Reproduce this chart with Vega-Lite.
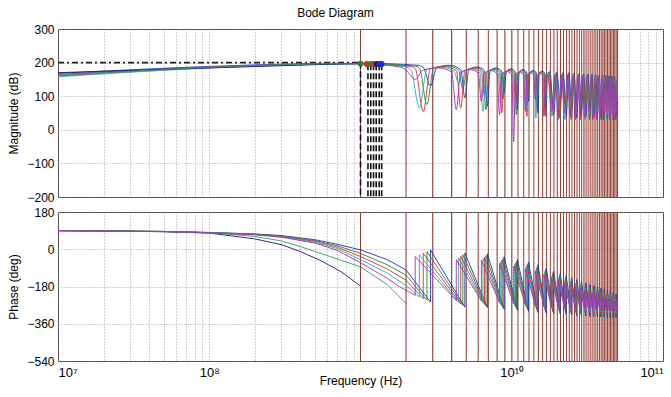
{
"$schema":"https://vega.github.io/schema/vega-lite/v6.json",
"padding":{"left":7,"top":6,"right":8,"bottom":4},
"title":{"text":"Bode Diagram","anchor":"middle","offset":3,"fontSize":12,"fontWeight":"normal","font":"Liberation Sans","color":"#000"},
"config":{"font":"Liberation Sans","view":{"stroke":"#4d4040","strokeWidth":1},
"axis":{"labelFont":"Liberation Sans","labelFontSize":12,"labelColor":"#000","titleFont":"Liberation Sans","titleFontSize":12,"titleFontWeight":"normal","titleColor":"#000","domain":false,"ticks":false,"gridColor":"#8a8a8a","gridDash":[1,2],"gridWidth":0.8,"gridOpacity":1,"labelPadding":4,"titlePadding":6}},
"datasets":{
"harm":[{"f":1},{"f":2},{"f":3},{"f":4},{"f":5},{"f":6},{"f":7},{"f":8},{"f":9},{"f":10},{"f":11},{"f":12},{"f":13},{"f":14},{"f":15},{"f":16},{"f":17},{"f":18},{"f":19},{"f":20},{"f":21},{"f":22},{"f":23},{"f":24},{"f":25},{"f":26},{"f":27},{"f":28},{"f":29},{"f":30},{"f":31},{"f":32},{"f":33},{"f":34},{"f":35},{"f":36},{"f":37},{"f":38},{"f":39},{"f":40},{"f":41},{"f":42},{"f":43},{"f":44},{"f":45},{"f":46},{"f":47},{"f":48},{"f":49},{"f":50}],
"ladder":[{"f":1,"v":200,"v2":-200},{"f":1.12,"v":195,"v2":-200},{"f":1.17,"v":195,"v2":-200},{"f":1.22,"v":195,"v2":-200},{"f":1.27,"v":195,"v2":-200},{"f":1.33,"v":195,"v2":-200},{"f":1.38,"v":195,"v2":-200}],
"hline":[{"f":0.01,"f1":1,"v":200}],
"dots":[{"s":"b","f":1,"v":197},{"s":"c","f":1.1,"v":196},{"s":"b","f":1.17,"v":196},{"s":"c","f":1.22,"v":196},{"s":"n","f":1.28,"v":196},{"s":"a","f":1.34,"v":196},{"s":"a","f":1.38,"v":196}],
"mag":[
{"s":"a","f":0.01,"v":168},{"s":"a","f":1,"v":198},{"s":"a","f":2.4,"v":192},
{"s":"a","f":2.6,"v":186},{"s":"a","f":2.9,"v":130},{"s":"a","f":3.2,"v":186},{"s":"a","f":3.9,"v":192},
{"s":"a","f":4.6,"v":179},{"s":"a","f":4.9,"v":95},{"s":"a","f":5.2,"v":179},{"s":"a","f":5.9,"v":187},
{"s":"a","f":6.6,"v":176},{"s":"a","f":6.9,"v":70},{"s":"a","f":7.2,"v":176},{"s":"a","f":7.9,"v":184},
{"s":"a","f":8.6,"v":173},{"s":"a","f":8.9,"v":110},{"s":"a","f":9.2,"v":173},{"s":"a","f":9.9,"v":181},
{"s":"a","f":10.6,"v":171},{"s":"a","f":10.9,"v":60},{"s":"a","f":11.2,"v":171},{"s":"a","f":11.9,"v":179},
{"s":"a","f":12.6,"v":169},{"s":"a","f":12.9,"v":85},{"s":"a","f":13.2,"v":169},{"s":"a","f":13.9,"v":177},
{"s":"a","f":14.6,"v":167},{"s":"a","f":14.9,"v":50},{"s":"a","f":15.2,"v":167},{"s":"a","f":15.9,"v":175},
{"s":"a","f":16.6,"v":165},{"s":"a","f":16.9,"v":70},{"s":"a","f":17.2,"v":165},{"s":"a","f":17.9,"v":173},
{"s":"a","f":18.9,"v":45},{"s":"a","f":19.9,"v":172},{"s":"a","f":20.9,"v":80},{"s":"a","f":21.9,"v":171},{"s":"a","f":22.9,"v":40},{"s":"a","f":23.9,"v":170},{"s":"a","f":24.9,"v":65},{"s":"a","f":25.9,"v":169},{"s":"a","f":26.9,"v":35},{"s":"a","f":27.9,"v":168},{"s":"a","f":28.9,"v":55},{"s":"a","f":29.9,"v":167},{"s":"a","f":30.9,"v":40},{"s":"a","f":31.9,"v":166},{"s":"a","f":32.9,"v":60},{"s":"a","f":33.9,"v":165},{"s":"a","f":34.9,"v":35},{"s":"a","f":35.9,"v":164},{"s":"a","f":36.9,"v":50},{"s":"a","f":37.9,"v":163},{"s":"a","f":38.9,"v":30},{"s":"a","f":39.9,"v":162},{"s":"a","f":40.9,"v":45},{"s":"a","f":41.9,"v":161},{"s":"a","f":42.9,"v":35},{"s":"a","f":43.9,"v":160},{"s":"a","f":44.9,"v":50},{"s":"a","f":45.9,"v":159},{"s":"a","f":46.9,"v":30},{"s":"a","f":47.9,"v":158},{"s":"a","f":48.9,"v":40},{"s":"a","f":50,"v":157},
{"s":"b","f":0.01,"v":163},{"s":"b","f":1,"v":197},{"s":"b","f":2.25,"v":190},
{"s":"b","f":2.45,"v":184},{"s":"b","f":2.75,"v":75},{"s":"b","f":3.05,"v":184},{"s":"b","f":3.75,"v":190},
{"s":"b","f":4.45,"v":178},{"s":"b","f":4.75,"v":120},{"s":"b","f":5.05,"v":178},{"s":"b","f":5.75,"v":185},
{"s":"b","f":6.45,"v":175},{"s":"b","f":6.75,"v":60},{"s":"b","f":7.05,"v":175},{"s":"b","f":7.75,"v":182},
{"s":"b","f":8.45,"v":172},{"s":"b","f":8.75,"v":90},{"s":"b","f":9.05,"v":172},{"s":"b","f":9.75,"v":179},
{"s":"b","f":10.45,"v":170},{"s":"b","f":10.75,"v":45},{"s":"b","f":11.05,"v":170},{"s":"b","f":11.75,"v":177},
{"s":"b","f":12.45,"v":168},{"s":"b","f":12.75,"v":100},{"s":"b","f":13.05,"v":168},{"s":"b","f":13.75,"v":175},
{"s":"b","f":14.45,"v":166},{"s":"b","f":14.75,"v":55},{"s":"b","f":15.05,"v":166},{"s":"b","f":15.75,"v":173},
{"s":"b","f":16.45,"v":164},{"s":"b","f":16.75,"v":40},{"s":"b","f":17.05,"v":164},{"s":"b","f":17.75,"v":171},
{"s":"b","f":18.75,"v":75},{"s":"b","f":19.75,"v":170},{"s":"b","f":20.75,"v":35},{"s":"b","f":21.75,"v":169},{"s":"b","f":22.75,"v":60},{"s":"b","f":23.75,"v":168},{"s":"b","f":24.75,"v":30},{"s":"b","f":25.75,"v":167},{"s":"b","f":26.75,"v":55},{"s":"b","f":27.75,"v":166},{"s":"b","f":28.75,"v":40},{"s":"b","f":29.75,"v":165},{"s":"b","f":30.75,"v":65},{"s":"b","f":31.75,"v":164},{"s":"b","f":32.75,"v":30},{"s":"b","f":33.75,"v":163},{"s":"b","f":34.75,"v":50},{"s":"b","f":35.75,"v":162},{"s":"b","f":36.75,"v":35},{"s":"b","f":37.75,"v":161},{"s":"b","f":38.75,"v":55},{"s":"b","f":39.75,"v":160},{"s":"b","f":40.75,"v":30},{"s":"b","f":41.75,"v":159},{"s":"b","f":42.75,"v":45},{"s":"b","f":43.75,"v":158},{"s":"b","f":44.75,"v":35},{"s":"b","f":45.75,"v":157},{"s":"b","f":46.75,"v":50},{"s":"b","f":47.75,"v":156},{"s":"b","f":48.75,"v":30},{"s":"b","f":50,"v":155},
{"s":"c","f":0.01,"v":160},{"s":"c","f":1,"v":196},{"s":"c","f":2.1,"v":189},
{"s":"c","f":2.3,"v":182},{"s":"c","f":2.6,"v":54},{"s":"c","f":2.9,"v":182},{"s":"c","f":3.6,"v":188},
{"s":"c","f":4.3,"v":176},{"s":"c","f":4.6,"v":65},{"s":"c","f":4.9,"v":176},{"s":"c","f":5.6,"v":183},
{"s":"c","f":6.3,"v":173},{"s":"c","f":6.6,"v":100},{"s":"c","f":6.9,"v":173},{"s":"c","f":7.6,"v":180},
{"s":"c","f":8.3,"v":170},{"s":"c","f":8.6,"v":50},{"s":"c","f":8.9,"v":170},{"s":"c","f":9.6,"v":177},
{"s":"c","f":10.3,"v":168},{"s":"c","f":10.6,"v":80},{"s":"c","f":10.9,"v":168},{"s":"c","f":11.6,"v":175},
{"s":"c","f":12.3,"v":166},{"s":"c","f":12.6,"v":40},{"s":"c","f":12.9,"v":166},{"s":"c","f":13.6,"v":173},
{"s":"c","f":14.3,"v":164},{"s":"c","f":14.6,"v":70},{"s":"c","f":14.9,"v":164},{"s":"c","f":15.6,"v":171},
{"s":"c","f":16.3,"v":162},{"s":"c","f":16.6,"v":45},{"s":"c","f":16.9,"v":162},{"s":"c","f":17.6,"v":169},
{"s":"c","f":18.6,"v":60},{"s":"c","f":19.6,"v":168},{"s":"c","f":20.6,"v":40},{"s":"c","f":21.6,"v":167},{"s":"c","f":22.6,"v":75},{"s":"c","f":23.6,"v":166},{"s":"c","f":24.6,"v":35},{"s":"c","f":25.6,"v":165},{"s":"c","f":26.6,"v":50},{"s":"c","f":27.6,"v":164},{"s":"c","f":28.6,"v":30},{"s":"c","f":29.6,"v":163},{"s":"c","f":30.6,"v":55},{"s":"c","f":31.6,"v":162},{"s":"c","f":32.6,"v":40},{"s":"c","f":33.6,"v":161},{"s":"c","f":34.6,"v":60},{"s":"c","f":35.6,"v":160},{"s":"c","f":36.6,"v":30},{"s":"c","f":37.6,"v":159},{"s":"c","f":38.6,"v":45},{"s":"c","f":39.6,"v":158},{"s":"c","f":40.6,"v":35},{"s":"c","f":41.6,"v":157},{"s":"c","f":42.6,"v":55},{"s":"c","f":43.6,"v":156},{"s":"c","f":44.6,"v":30},{"s":"c","f":45.6,"v":155},{"s":"c","f":46.6,"v":40},{"s":"c","f":47.6,"v":154},{"s":"c","f":48.6,"v":35},{"s":"c","f":50,"v":153},
{"s":"d","f":0.01,"v":158},{"s":"d","f":1,"v":196},{"s":"d","f":1.95,"v":188},
{"s":"d","f":2.15,"v":180},{"s":"d","f":2.45,"v":65},{"s":"d","f":2.75,"v":180},{"s":"d","f":3.45,"v":186},
{"s":"d","f":4.15,"v":174},{"s":"d","f":4.45,"v":140},{"s":"d","f":4.75,"v":174},{"s":"d","f":5.45,"v":181},
{"s":"d","f":6.15,"v":171},{"s":"d","f":6.45,"v":55},{"s":"d","f":6.75,"v":171},{"s":"d","f":7.45,"v":178},
{"s":"d","f":8.15,"v":168},{"s":"d","f":8.45,"v":75},{"s":"d","f":8.75,"v":168},{"s":"d","f":9.45,"v":175},
{"s":"d","f":10.15,"v":166},{"s":"d","f":10.45,"v":40},{"s":"d","f":10.75,"v":166},{"s":"d","f":11.45,"v":173},
{"s":"d","f":12.15,"v":164},{"s":"d","f":12.45,"v":60},{"s":"d","f":12.75,"v":164},{"s":"d","f":13.45,"v":171},
{"s":"d","f":14.15,"v":162},{"s":"d","f":14.45,"v":35},{"s":"d","f":14.75,"v":162},{"s":"d","f":15.45,"v":169},
{"s":"d","f":16.15,"v":160},{"s":"d","f":16.45,"v":80},{"s":"d","f":16.75,"v":160},{"s":"d","f":17.45,"v":167},
{"s":"d","f":18.45,"v":40},{"s":"d","f":19.45,"v":166},{"s":"d","f":20.45,"v":65},{"s":"d","f":21.45,"v":165},{"s":"d","f":22.45,"v":30},{"s":"d","f":23.45,"v":164},{"s":"d","f":24.45,"v":50},{"s":"d","f":25.45,"v":163},{"s":"d","f":26.45,"v":40},{"s":"d","f":27.45,"v":162},{"s":"d","f":28.45,"v":70},{"s":"d","f":29.45,"v":161},{"s":"d","f":30.45,"v":30},{"s":"d","f":31.45,"v":160},{"s":"d","f":32.45,"v":45},{"s":"d","f":33.45,"v":159},{"s":"d","f":34.45,"v":35},{"s":"d","f":35.45,"v":158},{"s":"d","f":36.45,"v":55},{"s":"d","f":37.45,"v":157},{"s":"d","f":38.45,"v":30},{"s":"d","f":39.45,"v":156},{"s":"d","f":40.45,"v":50},{"s":"d","f":41.45,"v":155},{"s":"d","f":42.45,"v":30},{"s":"d","f":43.45,"v":154},{"s":"d","f":44.45,"v":45},{"s":"d","f":45.45,"v":153},{"s":"d","f":46.45,"v":35},{"s":"d","f":47.45,"v":152},{"s":"d","f":48.45,"v":50},{"s":"d","f":50,"v":151},
{"s":"e","f":0.01,"v":165},{"s":"e","f":1,"v":197},{"s":"e","f":1.8,"v":187},
{"s":"e","f":2,"v":178},{"s":"e","f":2.3,"v":150},{"s":"e","f":2.6,"v":178},{"s":"e","f":3.3,"v":184},
{"s":"e","f":4,"v":172},{"s":"e","f":4.3,"v":60},{"s":"e","f":4.6,"v":172},{"s":"e","f":5.3,"v":179},
{"s":"e","f":6,"v":169},{"s":"e","f":6.3,"v":85},{"s":"e","f":6.6,"v":169},{"s":"e","f":7.3,"v":176},
{"s":"e","f":8,"v":166},{"s":"e","f":8.3,"v":45},{"s":"e","f":8.6,"v":166},{"s":"e","f":9.3,"v":173},
{"s":"e","f":10,"v":164},{"s":"e","f":10.3,"v":-35},{"s":"e","f":10.6,"v":164},{"s":"e","f":11.3,"v":171},
{"s":"e","f":12,"v":162},{"s":"e","f":12.3,"v":55},{"s":"e","f":12.6,"v":162},{"s":"e","f":13.3,"v":169},
{"s":"e","f":14,"v":160},{"s":"e","f":14.3,"v":90},{"s":"e","f":14.6,"v":160},{"s":"e","f":15.3,"v":167},
{"s":"e","f":16,"v":158},{"s":"e","f":16.3,"v":40},{"s":"e","f":16.6,"v":158},{"s":"e","f":17.3,"v":165},
{"s":"e","f":18.3,"v":55},{"s":"e","f":19.3,"v":164},{"s":"e","f":20.3,"v":30},{"s":"e","f":21.3,"v":163},{"s":"e","f":22.3,"v":50},{"s":"e","f":23.3,"v":162},{"s":"e","f":24.3,"v":45},{"s":"e","f":25.3,"v":161},{"s":"e","f":26.3,"v":30},{"s":"e","f":27.3,"v":160},{"s":"e","f":28.3,"v":50},{"s":"e","f":29.3,"v":159},{"s":"e","f":30.3,"v":35},{"s":"e","f":31.3,"v":158},{"s":"e","f":32.3,"v":55},{"s":"e","f":33.3,"v":157},{"s":"e","f":34.3,"v":30},{"s":"e","f":35.3,"v":156},{"s":"e","f":36.3,"v":45},{"s":"e","f":37.3,"v":155},{"s":"e","f":38.3,"v":35},{"s":"e","f":39.3,"v":154},{"s":"e","f":40.3,"v":30},{"s":"e","f":41.3,"v":153},{"s":"e","f":42.3,"v":50},{"s":"e","f":43.3,"v":152},{"s":"e","f":44.3,"v":30},{"s":"e","f":45.3,"v":151},{"s":"e","f":46.3,"v":45},{"s":"e","f":47.3,"v":150},{"s":"e","f":48.3,"v":30},{"s":"e","f":50,"v":149},
{"s":"n","f":0.01,"v":170},{"s":"n","f":1,"v":198},
{"s":"g","f":0.01,"v":162},{"s":"g","f":1,"v":197},{"s":"g","f":2,"v":190}
],
"ph":[
{"s":"n","f":0.01,"v":90},{"s":"n","f":0.05,"v":85},{"s":"n","f":0.1,"v":78},{"s":"n","f":0.2,"v":50},{"s":"n","f":0.3,"v":22},{"s":"n","f":0.4,"v":-11},{"s":"n","f":0.54,"v":-53},{"s":"n","f":0.75,"v":-110},{"s":"n","f":1,"v":-178},
{"s":"g","f":0.01,"v":90},{"s":"g","f":0.05,"v":86},{"s":"g","f":0.1,"v":80},{"s":"g","f":0.2,"v":62},{"s":"g","f":0.3,"v":40},{"s":"g","f":0.4,"v":13},{"s":"g","f":0.6,"v":-30},{"s":"g","f":1,"v":-85},{"s":"g","f":1.5,"v":-170},{"s":"g","f":2,"v":-262},
{"s":"a","f":0.01,"v":90},{"s":"a","f":0.05,"v":86},{"s":"a","f":0.1,"v":81},{"s":"a","f":0.2,"v":74},{"s":"a","f":0.3,"v":66},{"s":"a","f":0.5,"v":46},{"s":"a","f":0.7,"v":24},{"s":"a","f":1,"v":-3},{"s":"a","f":1.5,"v":-50},{"s":"a","f":2,"v":-100},
{"s":"a","f":2.9,"v":-255},{"s":"a","f":2.9,"v":-3},{"s":"a","f":4.9,"v":-280},{"s":"a","f":4.9,"v":-18},{"s":"a","f":6.9,"v":-282},{"s":"a","f":6.9,"v":-22},{"s":"a","f":8.9,"v":-290},{"s":"a","f":8.9,"v":-36},{"s":"a","f":10.9,"v":-295},{"s":"a","f":10.9,"v":-50},{"s":"a","f":12.9,"v":-300},{"s":"a","f":12.9,"v":-62},{"s":"a","f":14.9,"v":-305},{"s":"a","f":14.9,"v":-75},{"s":"a","f":16.9,"v":-308},{"s":"a","f":16.9,"v":-90},{"s":"a","f":18.9,"v":-310},{"s":"a","f":18.9,"v":-105},{"s":"a","f":20.9,"v":-312},{"s":"a","f":20.9,"v":-118},{"s":"a","f":22.9,"v":-315},{"s":"a","f":22.9,"v":-128},{"s":"a","f":24.9,"v":-318},{"s":"a","f":24.9,"v":-138},{"s":"a","f":26.9,"v":-320},{"s":"a","f":26.9,"v":-147},{"s":"a","f":28.9,"v":-320},{"s":"a","f":28.9,"v":-155},{"s":"a","f":30.9,"v":-322},{"s":"a","f":30.9,"v":-162},{"s":"a","f":32.9,"v":-324},{"s":"a","f":32.9,"v":-170},{"s":"a","f":34.9,"v":-325},{"s":"a","f":34.9,"v":-176},{"s":"a","f":36.9,"v":-326},{"s":"a","f":36.9,"v":-182},{"s":"a","f":38.9,"v":-327},{"s":"a","f":38.9,"v":-188},{"s":"a","f":40.9,"v":-328},{"s":"a","f":40.9,"v":-194},{"s":"a","f":42.9,"v":-329},{"s":"a","f":42.9,"v":-200},{"s":"a","f":44.9,"v":-330},{"s":"a","f":44.9,"v":-206},{"s":"a","f":46.9,"v":-330},{"s":"a","f":46.9,"v":-212},{"s":"a","f":48.9,"v":-330},{"s":"a","f":48.9,"v":-218},{"s":"a","f":50,"v":-280},
{"s":"b","f":0.01,"v":90},{"s":"b","f":0.05,"v":86},{"s":"b","f":0.1,"v":81},{"s":"b","f":0.2,"v":73},{"s":"b","f":0.3,"v":64},{"s":"b","f":0.5,"v":42},{"s":"b","f":0.7,"v":17},{"s":"b","f":1,"v":-20},{"s":"b","f":1.5,"v":-75},{"s":"b","f":2,"v":-125},
{"s":"b","f":2.75,"v":-247},{"s":"b","f":2.75,"v":-11},{"s":"b","f":4.75,"v":-272},{"s":"b","f":4.75,"v":-26},{"s":"b","f":6.75,"v":-274},{"s":"b","f":6.75,"v":-30},{"s":"b","f":8.75,"v":-282},{"s":"b","f":8.75,"v":-44},{"s":"b","f":10.75,"v":-287},{"s":"b","f":10.75,"v":-58},{"s":"b","f":12.75,"v":-292},{"s":"b","f":12.75,"v":-70},{"s":"b","f":14.75,"v":-297},{"s":"b","f":14.75,"v":-83},{"s":"b","f":16.75,"v":-300},{"s":"b","f":16.75,"v":-98},{"s":"b","f":18.75,"v":-302},{"s":"b","f":18.75,"v":-113},{"s":"b","f":20.75,"v":-304},{"s":"b","f":20.75,"v":-126},{"s":"b","f":22.75,"v":-307},{"s":"b","f":22.75,"v":-136},{"s":"b","f":24.75,"v":-310},{"s":"b","f":24.75,"v":-146},{"s":"b","f":26.75,"v":-312},{"s":"b","f":26.75,"v":-155},{"s":"b","f":28.75,"v":-312},{"s":"b","f":28.75,"v":-163},{"s":"b","f":30.75,"v":-314},{"s":"b","f":30.75,"v":-170},{"s":"b","f":32.75,"v":-316},{"s":"b","f":32.75,"v":-178},{"s":"b","f":34.75,"v":-317},{"s":"b","f":34.75,"v":-184},{"s":"b","f":36.75,"v":-318},{"s":"b","f":36.75,"v":-190},{"s":"b","f":38.75,"v":-319},{"s":"b","f":38.75,"v":-196},{"s":"b","f":40.75,"v":-320},{"s":"b","f":40.75,"v":-202},{"s":"b","f":42.75,"v":-321},{"s":"b","f":42.75,"v":-208},{"s":"b","f":44.75,"v":-322},{"s":"b","f":44.75,"v":-214},{"s":"b","f":46.75,"v":-322},{"s":"b","f":46.75,"v":-220},{"s":"b","f":48.75,"v":-322},{"s":"b","f":48.75,"v":-226},{"s":"b","f":50,"v":-286},
{"s":"c","f":0.01,"v":90},{"s":"c","f":0.05,"v":86},{"s":"c","f":0.1,"v":80},{"s":"c","f":0.2,"v":72},{"s":"c","f":0.3,"v":62},{"s":"c","f":0.5,"v":38},{"s":"c","f":0.7,"v":10},{"s":"c","f":1,"v":-35},{"s":"c","f":1.5,"v":-95},{"s":"c","f":2,"v":-150},
{"s":"c","f":2.6,"v":-239},{"s":"c","f":2.6,"v":-19},{"s":"c","f":4.6,"v":-264},{"s":"c","f":4.6,"v":-34},{"s":"c","f":6.6,"v":-266},{"s":"c","f":6.6,"v":-38},{"s":"c","f":8.6,"v":-274},{"s":"c","f":8.6,"v":-52},{"s":"c","f":10.6,"v":-279},{"s":"c","f":10.6,"v":-66},{"s":"c","f":12.6,"v":-284},{"s":"c","f":12.6,"v":-78},{"s":"c","f":14.6,"v":-289},{"s":"c","f":14.6,"v":-91},{"s":"c","f":16.6,"v":-292},{"s":"c","f":16.6,"v":-106},{"s":"c","f":18.6,"v":-294},{"s":"c","f":18.6,"v":-121},{"s":"c","f":20.6,"v":-296},{"s":"c","f":20.6,"v":-134},{"s":"c","f":22.6,"v":-299},{"s":"c","f":22.6,"v":-144},{"s":"c","f":24.6,"v":-302},{"s":"c","f":24.6,"v":-154},{"s":"c","f":26.6,"v":-304},{"s":"c","f":26.6,"v":-163},{"s":"c","f":28.6,"v":-304},{"s":"c","f":28.6,"v":-171},{"s":"c","f":30.6,"v":-306},{"s":"c","f":30.6,"v":-178},{"s":"c","f":32.6,"v":-308},{"s":"c","f":32.6,"v":-186},{"s":"c","f":34.6,"v":-309},{"s":"c","f":34.6,"v":-192},{"s":"c","f":36.6,"v":-310},{"s":"c","f":36.6,"v":-198},{"s":"c","f":38.6,"v":-311},{"s":"c","f":38.6,"v":-204},{"s":"c","f":40.6,"v":-312},{"s":"c","f":40.6,"v":-210},{"s":"c","f":42.6,"v":-313},{"s":"c","f":42.6,"v":-216},{"s":"c","f":44.6,"v":-314},{"s":"c","f":44.6,"v":-222},{"s":"c","f":46.6,"v":-314},{"s":"c","f":46.6,"v":-228},{"s":"c","f":48.6,"v":-314},{"s":"c","f":48.6,"v":-234},{"s":"c","f":50,"v":-290},
{"s":"d","f":0.01,"v":90},{"s":"d","f":0.05,"v":85},{"s":"d","f":0.1,"v":80},{"s":"d","f":0.2,"v":71},{"s":"d","f":0.3,"v":60},{"s":"d","f":0.5,"v":34},{"s":"d","f":0.7,"v":3},{"s":"d","f":1,"v":-50},{"s":"d","f":1.5,"v":-115},{"s":"d","f":2,"v":-175},
{"s":"d","f":2.45,"v":-231},{"s":"d","f":2.45,"v":-27},{"s":"d","f":4.45,"v":-256},{"s":"d","f":4.45,"v":-42},{"s":"d","f":6.45,"v":-258},{"s":"d","f":6.45,"v":-46},{"s":"d","f":8.45,"v":-266},{"s":"d","f":8.45,"v":-60},{"s":"d","f":10.45,"v":-271},{"s":"d","f":10.45,"v":-74},{"s":"d","f":12.45,"v":-276},{"s":"d","f":12.45,"v":-86},{"s":"d","f":14.45,"v":-281},{"s":"d","f":14.45,"v":-99},{"s":"d","f":16.45,"v":-284},{"s":"d","f":16.45,"v":-114},{"s":"d","f":18.45,"v":-286},{"s":"d","f":18.45,"v":-129},{"s":"d","f":20.45,"v":-288},{"s":"d","f":20.45,"v":-142},{"s":"d","f":22.45,"v":-291},{"s":"d","f":22.45,"v":-152},{"s":"d","f":24.45,"v":-294},{"s":"d","f":24.45,"v":-162},{"s":"d","f":26.45,"v":-296},{"s":"d","f":26.45,"v":-171},{"s":"d","f":28.45,"v":-296},{"s":"d","f":28.45,"v":-179},{"s":"d","f":30.45,"v":-298},{"s":"d","f":30.45,"v":-186},{"s":"d","f":32.45,"v":-300},{"s":"d","f":32.45,"v":-194},{"s":"d","f":34.45,"v":-301},{"s":"d","f":34.45,"v":-200},{"s":"d","f":36.45,"v":-302},{"s":"d","f":36.45,"v":-206},{"s":"d","f":38.45,"v":-303},{"s":"d","f":38.45,"v":-212},{"s":"d","f":40.45,"v":-304},{"s":"d","f":40.45,"v":-218},{"s":"d","f":42.45,"v":-305},{"s":"d","f":42.45,"v":-224},{"s":"d","f":44.45,"v":-306},{"s":"d","f":44.45,"v":-230},{"s":"d","f":46.45,"v":-306},{"s":"d","f":46.45,"v":-236},{"s":"d","f":48.45,"v":-306},{"s":"d","f":48.45,"v":-242},{"s":"d","f":50,"v":-292},
{"s":"e","f":0.01,"v":90},{"s":"e","f":0.05,"v":85},{"s":"e","f":0.1,"v":79},{"s":"e","f":0.2,"v":70},{"s":"e","f":0.3,"v":58},{"s":"e","f":0.5,"v":30},{"s":"e","f":0.7,"v":-5},{"s":"e","f":1,"v":-65},{"s":"e","f":1.5,"v":-140},{"s":"e","f":1.8,"v":-180},
{"s":"e","f":2.3,"v":-223},{"s":"e","f":2.3,"v":-35},{"s":"e","f":4.3,"v":-248},{"s":"e","f":4.3,"v":-50},{"s":"e","f":6.3,"v":-250},{"s":"e","f":6.3,"v":-54},{"s":"e","f":8.3,"v":-258},{"s":"e","f":8.3,"v":-68},{"s":"e","f":10.3,"v":-263},{"s":"e","f":10.3,"v":-82},{"s":"e","f":12.3,"v":-268},{"s":"e","f":12.3,"v":-94},{"s":"e","f":14.3,"v":-273},{"s":"e","f":14.3,"v":-107},{"s":"e","f":16.3,"v":-276},{"s":"e","f":16.3,"v":-122},{"s":"e","f":18.3,"v":-278},{"s":"e","f":18.3,"v":-137},{"s":"e","f":20.3,"v":-280},{"s":"e","f":20.3,"v":-150},{"s":"e","f":22.3,"v":-283},{"s":"e","f":22.3,"v":-160},{"s":"e","f":24.3,"v":-286},{"s":"e","f":24.3,"v":-170},{"s":"e","f":26.3,"v":-288},{"s":"e","f":26.3,"v":-179},{"s":"e","f":28.3,"v":-288},{"s":"e","f":28.3,"v":-187},{"s":"e","f":30.3,"v":-290},{"s":"e","f":30.3,"v":-194},{"s":"e","f":32.3,"v":-292},{"s":"e","f":32.3,"v":-202},{"s":"e","f":34.3,"v":-293},{"s":"e","f":34.3,"v":-208},{"s":"e","f":36.3,"v":-294},{"s":"e","f":36.3,"v":-214},{"s":"e","f":38.3,"v":-295},{"s":"e","f":38.3,"v":-220},{"s":"e","f":40.3,"v":-296},{"s":"e","f":40.3,"v":-226},{"s":"e","f":42.3,"v":-297},{"s":"e","f":42.3,"v":-232},{"s":"e","f":44.3,"v":-298},{"s":"e","f":44.3,"v":-238},{"s":"e","f":46.3,"v":-298},{"s":"e","f":46.3,"v":-244},{"s":"e","f":48.3,"v":-298},{"s":"e","f":48.3,"v":-250},{"s":"e","f":50,"v":-291}
]},
"vconcat":[
{"width":605,"height":168,
"encoding":{"x":{"field":"f","type":"quantitative","scale":{"type":"log","domain":[0.01,100],"nice":false},
"axis":{"values":[0.01,0.02,0.03,0.04,0.05,0.06,0.07,0.08,0.09,0.1,0.2,0.3,0.4,0.5,0.6,0.7,0.8,0.9,1,2,3,4,5,6,7,8,9,10,20,30,40,50,60,70,80,90,100],"labels":false,"title":null,"grid":true,"labelPadding":0}}},
"layer":[
{"data":{"name":"harm"},"mark":{"type":"rule","color":"#943f33","strokeWidth":1},"encoding":{}},
{"data":{"name":"hline"},"mark":{"type":"rule","color":"#222","strokeWidth":1.6,"strokeDash":[6,3,2,3]},"encoding":{"x2":{"field":"f1"},"y":{"field":"v","type":"quantitative","scale":{"domain":[-200,300],"nice":false},"axis":{"title":"Magnitude (dB)","values":[-200,-100,0,100,200,300],"grid":true}}}},
{"data":{"name":"ladder"},"mark":{"type":"rule","color":"#111","strokeWidth":1.6,"strokeDash":[6,3]},"encoding":{"y":{"field":"v","type":"quantitative","scale":{"domain":[-200,300],"nice":false},"axis":{"title":"Magnitude (dB)","values":[-200,-100,0,100,200,300],"grid":true}},"y2":{"field":"v2"}}},
{"data":{"name":"mag"},"mark":{"type":"line","strokeWidth":0.9,"interpolate":"monotone","clip":true},"encoding":{"y":{"field":"v","type":"quantitative","scale":{"domain":[-200,300],"nice":false},"axis":{"title":"Magnitude (dB)","values":[-200,-100,0,100,200,300],"grid":true}},"color":{"field":"s","type":"nominal","legend":null,"scale":{"domain":["a","b","c","d","e","n","g"],"range":["#1c2cc8","#1f8a2a","#e02a2a","#20b0b8","#b02ab0","#1a1a70","#3a9a5a"]}}}},
{"data":{"name":"dots"},"mark":{"type":"point","filled":true,"size":35,"opacity":1},"encoding":{"y":{"field":"v","type":"quantitative","scale":{"domain":[-200,300],"nice":false},"axis":{"title":"Magnitude (dB)","values":[-200,-100,0,100,200,300],"grid":true}},"color":{"field":"s","type":"nominal","legend":null,"scale":{"domain":["a","b","c","d","e","n","g"],"range":["#1c2cc8","#1f8a2a","#e02a2a","#20b0b8","#b02ab0","#1a1a70","#3a9a5a"]}}}}
]},
{"width":605,"height":149,
"encoding":{"x":{"field":"f","type":"quantitative","scale":{"type":"log","domain":[0.01,100],"nice":false},
"axis":{"values":[0.01,0.02,0.03,0.04,0.05,0.06,0.07,0.08,0.09,0.1,0.2,0.3,0.4,0.5,0.6,0.7,0.8,0.9,1,2,3,4,5,6,7,8,9,10,20,30,40,50,60,70,80,90,100],"grid":true,"title":"Frequency (Hz)","labelPadding":5,"labelExpr":"datum.value == 0.01 ? '10⁷' : datum.value == 0.1 ? '10⁸' : datum.value == 10 ? '10¹⁰' : datum.value == 100 ? '10¹¹' : ''","labelFontSize":13,"titlePadding":-4}}},
"layer":[
{"data":{"name":"harm"},"mark":{"type":"rule","color":"#943f33","strokeWidth":1},"encoding":{}},
{"data":{"name":"ph"},"mark":{"type":"line","strokeWidth":0.9,"clip":true},"encoding":{"y":{"field":"v","type":"quantitative","scale":{"domain":[-540,180],"nice":false},"axis":{"title":"Phase (deg)","values":[-540,-360,-180,0,180],"grid":true}},"color":{"field":"s","type":"nominal","legend":null,"scale":{"domain":["a","b","c","d","e","n","g"],"range":["#1c2cc8","#1f8a2a","#e02a2a","#20b0b8","#b02ab0","#1a1a70","#3a9a5a"]}},"order":{"value":null}}}
]}
],
"spacing":1
}
